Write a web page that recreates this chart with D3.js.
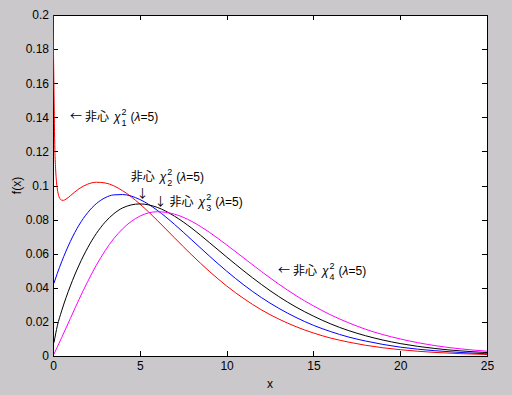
<!DOCTYPE html>
<html>
<head>
<meta charset="utf-8">
<script src="https://cdn.jsdelivr.net/npm/d3@7"></script>
<style>
  body { margin: 0; background: #cbc8cb; }
  svg { display: block; font-family: "Liberation Sans", "Noto Sans CJK JP", sans-serif; }
  .tick text { font-size: 12px; fill: #000; }
  .arrow { font-family: "Noto Sans CJK JP", sans-serif; }
</style>
</head>
<body>
<svg id="chart"></svg>
<script>
// values (noncentral chi-square pdf, lambda = 5)
var xGrid1 = [0, 0.05, 0.1, 0.15, 0.2, 0.25, 0.3, 0.4, 0.5, 0.6, 0.75, 1, 1.5, 2, 2.5, 3, 4, 5, 6, 7, 8, 9, 10, 11, 12, 13, 14, 15, 16, 17, 18, 20, 22, 25];
var chi1Vals = [0.2, 0.161, 0.1242, 0.1098, 0.1022, 0.0979, 0.0951, 0.0923, 0.0914, 0.0913, 0.0920, 0.0940, 0.0981, 0.1008, 0.1019, 0.1015, 0.0970, 0.0892, 0.0796, 0.0693, 0.0592, 0.0497, 0.0411, 0.0336, 0.0271, 0.0217, 0.0172, 0.0135, 0.0105, 0.0082, 0.0063, 0.0037, 0.0021, 0.0009];

var xGrid = [0.055, 0.25, 0.5, 1, 1.5, 2, 2.5, 3, 3.5, 4, 5, 6, 7, 8, 9, 10, 11, 12, 13, 14, 15, 16, 17, 18, 20, 22, 25];
var chi2Vals = [0.0427, 0.0485, 0.0553, 0.0672, 0.0768, 0.0841, 0.0894, 0.0928, 0.0945, 0.0947, 0.0918, 0.0855, 0.0772, 0.0680, 0.0587, 0.0498, 0.0416, 0.0343, 0.0280, 0.0226, 0.0180, 0.0143, 0.0112, 0.0088, 0.0052, 0.0031, 0.0013];
var chi3Vals = [0.0078, 0.0177, 0.0265, 0.0411, 0.0533, 0.0635, 0.0719, 0.0785, 0.0834, 0.0868, 0.0892, 0.0872, 0.0820, 0.0749, 0.0666, 0.0581, 0.0498, 0.0420, 0.0349, 0.0287, 0.0234, 0.0188, 0.0150, 0.0119, 0.0073, 0.0044, 0.0020];
var chi4Vals = [0.0011, 0.0053, 0.0108, 0.0220, 0.0332, 0.0437, 0.0533, 0.0617, 0.0688, 0.0745, 0.0820, 0.0846, 0.0832, 0.0789, 0.0726, 0.0652, 0.0574, 0.0496, 0.0422, 0.0354, 0.0294, 0.0241, 0.0196, 0.0157, 0.0100, 0.0061, 0.0028];

var xTicks = [0, 5, 10, 15, 20, 25];
var yTicks = [0, 0.02, 0.04, 0.06, 0.08, 0.1, 0.12, 0.14, 0.16, 0.18, 0.2];

var series = [
  { xs: xGrid1, ys: chi1Vals, color: "#ff0000" },
  { xs: xGrid,  ys: chi2Vals, color: "#0000ff" },
  { xs: xGrid,  ys: chi3Vals, color: "#000000" },
  { xs: xGrid,  ys: chi4Vals, color: "#ff00ff" }
];

// annotation text anchors (data coords: left edge, vertical centre)
var labels = [
  { x: 0.98, y: 0.140, arrow: "\u2190", n: "1" },
  { x: 4.48, y: 0.1051, arrow: null, n: "2" },
  { x: 5.85, y: 0.0905, arrow: "\u2193", n: "3" },
  { x: 12.96, y: 0.050, arrow: "\u2190", n: "4" }
];
var arrows = [ { x: 5.15, y: 0.0950, text: "\u2193" } ];

var width = 512, height = 395;
var mLeft = 53, mRight = 487, mTop = 15, mBottom = 356;

var svg = d3.select("#chart").attr("width", width).attr("height", height);

var x = d3.scaleLinear().domain([0, 25]).range([mLeft, mRight]);
var y = d3.scaleLinear().domain([0, 0.2]).range([mBottom, mTop]);

svg.append("rect")
    .attr("x", mLeft).attr("y", mTop)
    .attr("width", mRight - mLeft).attr("height", mBottom - mTop)
    .attr("fill", "#fff");

svg.append("clipPath").attr("id", "plot-clip")
  .append("rect")
    .attr("x", mLeft).attr("y", mTop)
    .attr("width", mRight - mLeft + 1).attr("height", mBottom - mTop + 1);

// axes, ticks pointing inward on all four sides
svg.append("g")
    .attr("transform", "translate(0," + mBottom + ")")
    .call(d3.axisBottom(x).tickValues(xTicks).tickSizeInner(-5).tickSizeOuter(0).tickPadding(5));
svg.append("g")
    .attr("transform", "translate(0," + mTop + ")")
    .call(d3.axisTop(x).tickValues(xTicks).tickSizeInner(-5).tickSizeOuter(0).tickFormat(""));
svg.append("g")
    .attr("transform", "translate(" + mLeft + ",0)")
    .call(d3.axisLeft(y).tickValues(yTicks).tickSizeInner(-5).tickSizeOuter(0).tickPadding(4).tickFormat(d3.format("~g")));
svg.append("g")
    .attr("transform", "translate(" + mRight + ",0)")
    .call(d3.axisRight(y).tickValues(yTicks).tickSizeInner(-5).tickSizeOuter(0).tickFormat(""));

svg.selectAll(".domain").attr("stroke", "#000").attr("shape-rendering", "crispEdges");
svg.selectAll(".tick line").attr("stroke", "#000").attr("shape-rendering", "crispEdges");
svg.selectAll(".tick text").attr("font-family", "Liberation Sans, sans-serif");

var line = d3.line()
    .x(d => x(d[0]))
    .y(d => y(d[1]))
    .curve(d3.curveMonotoneX);

svg.append("g").attr("clip-path", "url(#plot-clip)")
  .selectAll("path")
  .data(series)
  .enter()
  .append("path")
    .attr("d", s => line(s.xs.map((v, i) => [v, s.ys[i]])))
    .attr("fill", "none")
    .attr("stroke", s => s.color)
    .attr("stroke-width", 1);

// axis titles
svg.append("text")
    .attr("x", (mLeft + mRight) / 2).attr("y", 388)
    .attr("text-anchor", "middle")
    .attr("font-size", 12)
    .text("x");
svg.append("text")
    .attr("transform", "translate(21," + ((mTop + mBottom) / 2) + ") rotate(-90)")
    .attr("text-anchor", "middle")
    .attr("font-size", 12)
    .text("f(x)");

// annotation: arrow + 非心 + chi with stacked 2 / n + (lambda=5)
function chiLabel(lb) {
  var g = svg.append("g")
      .attr("transform", "translate(" + x(lb.x) + "," + (y(lb.y) + 4) + ")")
      .attr("font-size", 12);
  var cx = 0;
  function piece(str, opts) {
    opts = opts || {};
    var t = g.append("text").attr("x", cx).attr("y", opts.dy || 0).text(str);
    if (opts.italic) t.attr("font-style", "italic");
    if (opts.size) t.attr("font-size", opts.size);
    if (opts.cls) t.attr("class", opts.cls);
    return t.node().getComputedTextLength();
  }
  if (lb.arrow) cx += piece(lb.arrow, { cls: "arrow" }) + 3;
  cx += piece("\u975e\u5fc3") + 5;
  cx += piece("\u03c7", { italic: true }) + 1;
  var w1 = piece("2", { dy: -6, size: 9 });
  var w2 = piece(lb.n, { dy: 5, size: 9 });
  cx += Math.max(w1, w2) + 4;
  cx += piece("(");
  cx += piece("\u03bb", { italic: true });
  piece("=5)");
}
labels.forEach(chiLabel);

svg.selectAll(".lone-arrow")
  .data(arrows)
  .enter()
  .append("text")
    .attr("class", "lone-arrow arrow")
    .attr("x", d => x(d.x)).attr("y", d => y(d.y) + 4)
    .attr("text-anchor", "middle")
    .attr("font-size", 12)
    .text(d => d.text);
</script>
</body>
</html>
